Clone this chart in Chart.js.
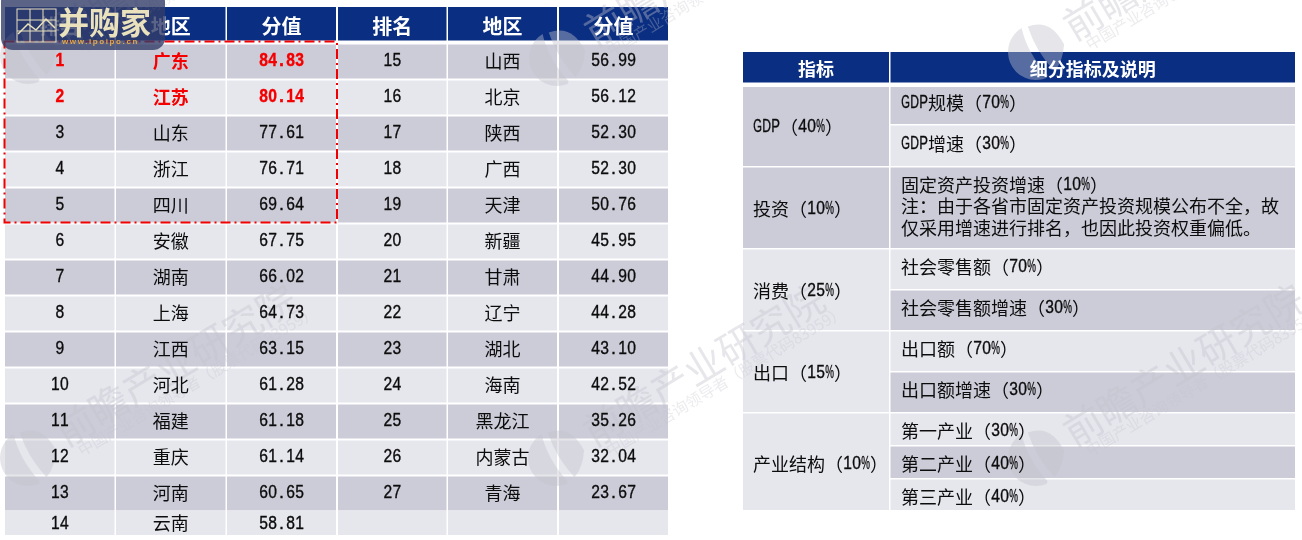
<!DOCTYPE html>
<html><head><meta charset="utf-8">
<style>html,body{margin:0;padding:0;background:#fff;overflow:hidden}canvas{display:block}</style>
<script src="https://cdn.jsdelivr.net/npm/chart.js@4"></script>
</head><body><canvas id="c" width="1302" height="540"></canvas>
<script>
// ---- data ----
const rankHeaders = ["排名","地区","分值","排名","地区","分值"];
const ranks = [1,2,3,4,5,6,7,8,9,10,11,12,13,14,15,16,17,18,19,20,21,22,23,24,25,26,27];
const regions = ["广东","江苏","山东","浙江","四川","安徽","湖南","上海","江西","河北","福建","重庆","河南","云南","山西","北京","陕西","广西","天津","新疆","甘肃","辽宁","湖北","海南","黑龙江","内蒙古","青海"];
const scores = [84.83,80.14,77.61,76.71,69.64,67.75,66.02,64.73,63.15,61.28,61.18,61.14,60.65,58.81,56.99,56.12,52.30,52.30,50.76,45.95,44.90,44.28,43.10,42.52,35.26,32.04,23.67];
const indicatorHeaders = ["指标","细分指标及说明"];
const indicators = ["GDP（40%）","投资（10%）","消费（25%）","出口（15%）","产业结构（10%）"];
const details = [["GDP规模（70%）"],["GDP增速（30%）"],
  ["固定资产投资增速（10%）","注：由于各省市固定资产投资规模公布不全，故","仅采用增速进行排名，也因此投资权重偏低。"],
  ["社会零售额（70%）"],["社会零售额增速（30%）"],["出口额（70%）"],["出口额增速（30%）"],
  ["第一产业（30%）"],["第二产业（40%）"],["第三产业（40%）"]];
const highlightedRanks = 2;
const boxedRanks = 5;

// ---- layout and style ----
const NAVY="#0a2e81", DARK="#cbccd8", LIGHT="#e6e7ed", INK="#0c0c0c", RED="#f40000";
const CJK='"Noto Sans CJK SC"', LAT='"Liberation Sans"';
const colEdges=[[5,114.5],[116,225.5],[227,336],[338,446.5],[448,557],[559,668]];
const rowTop=i=>i===13?511:44.5+36*i;
const rowBottom=i=>i===13?535:44.5+36*i+34;
const rCols=[[743,889],[890.5,1295]];
const rLeft=[[87,166,DARK],[167.5,248,DARK],[249.5,330,LIGHT],[331.5,412,LIGHT],[413.5,510,LIGHT]];
const rRight=[[87,124,DARK],[125.5,166,LIGHT],[167.5,248,DARK],[249.5,289,LIGHT],[290.5,330,DARK],[331.5,371,LIGHT],[372.5,412,DARK],[413.5,445,LIGHT],[446.5,478,DARK],[479.5,510,LIGHT]];
const rLeftTextY=[127,209,291,373,464];
const rTextY=[103,144,null,267,308,349,390,431,464,497];
const rNoteY=[185,206,228];

function drawMixed(ctx,text,x,y,size,color,bold,align){
  const adv=size/2; let w=0; const chars=[...text];
  chars.forEach(ch=>{w+=ch.charCodeAt(0)<128?adv:size;});
  let cx=align==="center"?x-w/2:x;
  ctx.fillStyle=color;ctx.strokeStyle=color;ctx.lineWidth=.35;ctx.textBaseline="middle";ctx.textAlign="center";
  chars.forEach(ch=>{
    if(ch.charCodeAt(0)<128){
      ctx.font=(bold?"bold ":"")+size+"px "+LAT;
      ctx.fillText(ch,cx+adv/2,y+.5,adv-.3);
      ctx.strokeText(ch,cx+adv/2,y+.5,adv-.3);
      cx+=adv;
    }else{
      ctx.font=(bold?"bold ":"")+size+"px "+CJK;
      ctx.fillText(ch,cx+size/2,y);cx+=size;
    }
  });
}
function rectV(ctx,s,x0,x1,y0,y1,c){
  const X0=s.x.getPixelForValue(x0),X1=s.x.getPixelForValue(x1),Y0=s.y.getPixelForValue(y0),Y1=s.y.getPixelForValue(y1);
  ctx.fillStyle=c;ctx.fillRect(X0,Y0,X1-X0,Y1-Y0);
}
function watermark(ctx,x,y){
  ctx.save();ctx.translate(x,y);ctx.rotate(-31*Math.PI/180);
  ctx.fillStyle="rgba(195,195,205,.42)";
  ctx.beginPath();ctx.arc(0,0,28,Math.PI*.55,Math.PI*1.5);ctx.quadraticCurveTo(-8,-4,-2,26);ctx.closePath();ctx.fill();
  ctx.beginPath();ctx.moveTo(6,-26);ctx.quadraticCurveTo(30,-22,28,8);ctx.quadraticCurveTo(18,22,6,26);ctx.quadraticCurveTo(0,0,6,-26);ctx.closePath();ctx.fill();
  ctx.textAlign="left";ctx.textBaseline="middle";
  ctx.fillStyle="rgba(195,195,205,.40)";
  ctx.font="39px "+CJK;ctx.fillText("前瞻产业研究院",38,-4);
  ctx.fillStyle="rgba(195,195,205,.32)";
  ctx.font="15.5px "+CJK;ctx.fillText("中国产业咨询领导者（股票代码83959）",47,21);
  ctx.restore();
}
const tablePlugin={id:"tables",
  beforeDatasetsDraw(chart){
    const ctx=chart.ctx,s=chart.scales;
    ctx.save();
    ctx.fillStyle="#fff";ctx.fillRect(0,0,1302,540);
    colEdges.forEach((c,i)=>{
      rectV(ctx,s,c[0],c[1],7,40.5,NAVY);
      for(let r=0;r<14;r++){
        rectV(ctx,s,c[0],c[1],rowTop(r),rowBottom(r),r%2===0?DARK:LIGHT);
      }
    });
    rCols.forEach(c=>rectV(ctx,s,c[0],c[1],52,82.5,NAVY));
    rLeft.forEach(r=>rectV(ctx,s,rCols[0][0],rCols[0][1],r[0],r[1],r[2]));
    rRight.forEach(r=>rectV(ctx,s,rCols[1][0],rCols[1][1],r[0],r[1],r[2]));
    // watermarks sit under the text
    [[28,458],[556,458],[1036,458],[28,56],[557,58],[1036,52]].forEach(p=>watermark(ctx,p[0],p[1]));
    colEdges.forEach((c,i)=>{
      drawMixed(ctx,rankHeaders[i],(c[0]+c[1])/2,s.y.getPixelForValue(26),20,"#fff",true,"center");
    });
    rCols.forEach((c,i)=>{
      drawMixed(ctx,indicatorHeaders[i],(c[0]+c[1])/2,s.y.getPixelForValue(69),18,"#fff",true,"center");
    });
    indicators.forEach((t,i)=>{
      drawMixed(ctx,t,753,s.y.getPixelForValue(rLeftTextY[i]),18,INK,false,"left");
    });
    details.forEach((lines,i)=>{
      lines.forEach((t,j)=>{
        const y=rTextY[i]===null?rNoteY[j]:rTextY[i];
        drawMixed(ctx,t,901,s.y.getPixelForValue(y),18,INK,false,"left");
      });
    });
    ctx.restore();
  },
  afterDatasetsDraw(chart){
    const ctx=chart.ctx,s=chart.scales;
    ctx.save();
    [chart.getDatasetMeta(0),chart.getDatasetMeta(1),chart.getDatasetMeta(2)].forEach((m,k)=>{
      m.data.forEach((el,i)=>{
        const hi=i<highlightedRanks;
        const label=k===0?String(ranks[i]):k===1?regions[i]:scores[i].toFixed(2);
        drawMixed(ctx,label,el.x,el.y,18,hi?RED:INK,hi,"center");
      });
    });
    // top-region box
    const bx0=s.x.getPixelForValue(4.5),bx1=s.x.getPixelForValue(337),by0=s.y.getPixelForValue(41.5),by1=s.y.getPixelForValue(222.5);
    ctx.strokeStyle="#f00000";ctx.lineWidth=2;ctx.setLineDash([10,4,2,4]);
    ctx.strokeRect(bx0,by0,bx1-bx0,by1-by0);ctx.setLineDash([]);
    // logo badge
    ctx.fillStyle="rgba(50,60,105,.80)";
    ctx.beginPath();ctx.roundRect(1,-10,164,60,12);ctx.fill();
    ctx.strokeStyle="#e9e2bd";ctx.lineWidth=1;
    ctx.strokeRect(17,9,39,33);
    for(let i=1;i<3;i++){ctx.beginPath();ctx.moveTo(17+13*i,9);ctx.lineTo(17+13*i,42);ctx.stroke();}
    for(let i=1;i<3;i++){ctx.beginPath();ctx.moveTo(17,9+11*i);ctx.lineTo(56,9+11*i);ctx.stroke();}
    ctx.beginPath();ctx.moveTo(18,34);ctx.lineTo(28,24);ctx.lineTo(36,30);ctx.lineTo(46,19);ctx.lineTo(55,28);ctx.lineWidth=1.5;ctx.stroke();
    ctx.fillStyle="#e9e2bd";ctx.textAlign="left";ctx.textBaseline="middle";
    ctx.font="bold 31px "+CJK;ctx.fillText("并购家",58,22);
    ctx.font="bold 8px "+LAT;ctx.fillStyle="#e0a94a";ctx.letterSpacing="1.6px";ctx.fillText("www.ipoipo.cn",62,42);ctx.letterSpacing="0px";
    ctx.restore();
  }
};
const cx=i=>{const c=colEdges[i];return (c[0]+c[1])/2;};
const cellPoint=(col,i)=>{
  const off=i<14?0:3, r=i<14?i:i-14;
  return {x:cx(col+off),y:r===13?523.5:rowTop(r)+16.5};
};
new Chart(document.getElementById("c"),{
  type:"scatter",
  data:{datasets:[
    {label:"排名",data:ranks.map((v,i)=>cellPoint(0,i)),pointRadius:0},
    {label:"地区",data:regions.map((v,i)=>cellPoint(1,i)),pointRadius:0},
    {label:"分值",data:scores.map((v,i)=>cellPoint(2,i)),pointRadius:0}
  ]},
  options:{responsive:false,animation:false,events:[],
    layout:{padding:0},
    plugins:{legend:{display:false},tooltip:{enabled:false}},
    scales:{
      x:{type:"linear",min:0,max:1302,display:false},
      y:{type:"linear",min:0,max:540,reverse:true,display:false}
    }},
  plugins:[tablePlugin]
});
</script></body></html>
